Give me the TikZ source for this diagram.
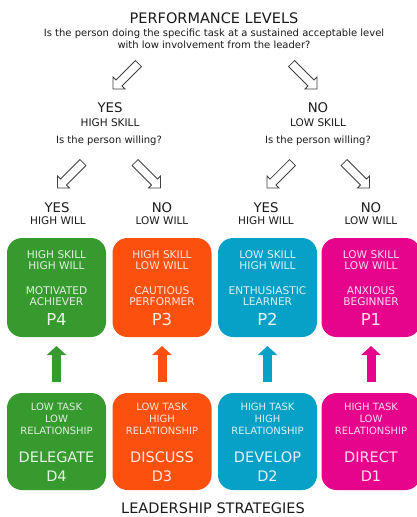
\documentclass[tikz,border=0pt]{standalone}
\usepackage{fontspec}
\setmainfont{DejaVu Sans}
\usetikzlibrary{arrows.meta,calc}
\definecolor{cgreen}{HTML}{369A2E}
\definecolor{corange}{HTML}{FC500F}
\definecolor{cblue}{HTML}{07A0C6}
\definecolor{cpink}{HTML}{E5048B}
\definecolor{ink}{HTML}{1A1A1A}
\tikzset{
  box/.style={rounded corners=15pt, minimum width=99pt, minimum height=#1, inner sep=0pt, outer sep=0pt},
  title/.style={font=\fontsize{14.5}{17}\selectfont, text=ink, inner sep=0pt},
  sub/.style={font=\fontsize{10}{12}\selectfont, text=ink, align=center, inner sep=0pt},
  ans/.style={font=\fontsize{13.3}{15}\selectfont, text=ink, inner sep=0pt},
  ansub/.style={font=\fontsize{10.5}{12}\selectfont, text=ink, inner sep=0pt},
  boxtxt/.style={font=\fontsize{10.6}{11}\selectfont, align=center, inner sep=0pt, text=white!85!#1},
  boxtxtb/.style={font=\fontsize{10}{12.2}\selectfont, align=center, inner sep=0pt, text=white!85!#1},
  boxbig/.style={font=\fontsize{16.5}{18}\selectfont, align=center, inner sep=0pt, text=white!88!#1},
  boxhuge/.style={font=\fontsize{14.5}{19}\selectfont, align=center, inner sep=0pt, text=white!88!#1},
  hollow/.pic={\draw[line width=0.8pt, draw=black!75, fill=white, line join=miter]
      (0,0) -- (-8.5,8.5) -- (-8.5,4.2) -- (-36,4.2) -- (-36,-4.2) -- (-8.5,-4.2) -- (-8.5,-8.5) -- cycle;},
  fat/.style={draw=#1, line width=9pt, -{Triangle[width=19pt,length=9pt]}, shorten <=11pt, shorten >=9pt}
}
\begin{document}
\begin{tikzpicture}[x=1pt,y=-1pt]
\useasboundingbox (0,0) rectangle (416,517);
\fill[white] (0,0) rectangle (416,517);

% header
\node[title] (perf) at (214,18) {PERFORMANCE LEVELS};
\node[sub] (q1) at (214,39) {Is the person doing the specific task at a sustained acceptable level\\with low involvement from the leader?};

\pic[rotate=225] at (113,89) {hollow};
\pic[rotate=315] at (317,89) {hollow};

\node[ans] (yes0) at (110,108) {YES};
\node[ansub] (hs) at (110,123) {HIGH SKILL};
\node[sub] (w1) at (109,141) {Is the person willing?};
\node[ans] (no0) at (318,108) {NO};
\node[ansub] (ls) at (318,123) {LOW SKILL};
\node[sub] (w2) at (318,141) {Is the person willing?};

\pic[rotate=225] at (57.5,188) {hollow};
\pic[rotate=315] at (160.5,188) {hollow};
\pic[rotate=225] at (267,188) {hollow};
\pic[rotate=315] at (369.5,188) {hollow};

\node[ans] (y1) at (57,208) {YES};
\node[ansub] (hw1) at (58,221) {HIGH WILL};
\node[ans] (n1) at (162,208) {NO};
\node[ansub] (lw1) at (162,221) {LOW WILL};
\node[ans] (y2) at (266,208) {YES};
\node[ansub] (hw2) at (266,221) {HIGH WILL};
\node[ans] (n2) at (371,208) {NO};
\node[ansub] (lw2) at (371,221) {LOW WILL};

% performance boxes
\node[box=99pt, fill=cgreen] (p4) at (56.5,287.5) {};
\node[box=99pt, fill=corange] (p3) at (162,287.5) {};
\node[box=99pt, fill=cblue] (p2) at (267.5,287.5) {};
\node[box=99pt, fill=cpink] (p1) at (371,287.5) {};

\foreach \b/\c/\la/\lb/\na/\nb/\p in {
  p4/cgreen/HIGH SKILL/HIGH WILL/MOTIVATED/ACHIEVER/P4,
  p3/corange/HIGH SKILL/LOW WILL/CAUTIOUS/PERFORMER/P3,
  p2/cblue/LOW SKILL/HIGH WILL/ENTHUSIASTIC/LEARNER/P2,
  p1/cpink/LOW SKILL/LOW WILL/ANXIOUS/BEGINNER/P1}{
  \node[boxtxt=\c] (\b a) at ($(\b.north)+(0,22.5)$) {\la\\\lb};
  \node[boxtxt=\c] (\b b) at ($(\b.north)+(0,58.5)$) {\na\\\nb};
  \node[boxbig=\c] (\b c) at ($(\b.north)+(0,81.5)$) {\p};
}

% strategy boxes
\node[box=97pt, fill=cgreen] (d4) at (56.5,441.5) {};
\node[box=97pt, fill=corange] (d3) at (162,441.5) {};
\node[box=97pt, fill=cblue] (d2) at (267.5,441.5) {};
\node[box=97pt, fill=cpink] (d1) at (371,441.5) {};

\foreach \b/\c/\la/\lb/\s/\d in {
  d4/cgreen/LOW TASK/LOW/DELEGATE/D4,
  d3/corange/LOW TASK/HIGH/DISCUSS/D3,
  d2/cblue/HIGH TASK/HIGH/DEVELOP/D2,
  d1/cpink/HIGH TASK/LOW/DIRECT/D1}{
  \node[boxtxtb=\c] (\b a) at ($(\b.north)+(0,26)$) {\la\\\lb\\RELATIONSHIP};
  \node[boxhuge=\c] (\b b) at ($(\b.north)+(0,64.5)$) {\s};
  \node[boxhuge=\c] (\b c) at ($(\b.north)+(0,83)$) {\d};
}

% up arrows
\draw[fat=cgreen] (d4.north) -- (p4.south);
\draw[fat=corange] (d3.north) -- (p3.south);
\draw[fat=cblue] (d2.north) -- (p2.south);
\draw[fat=cpink] (d1.north) -- (p1.south);

\node[title] (lead) at (213,508) {LEADERSHIP STRATEGIES};
\end{tikzpicture}
\end{document}
